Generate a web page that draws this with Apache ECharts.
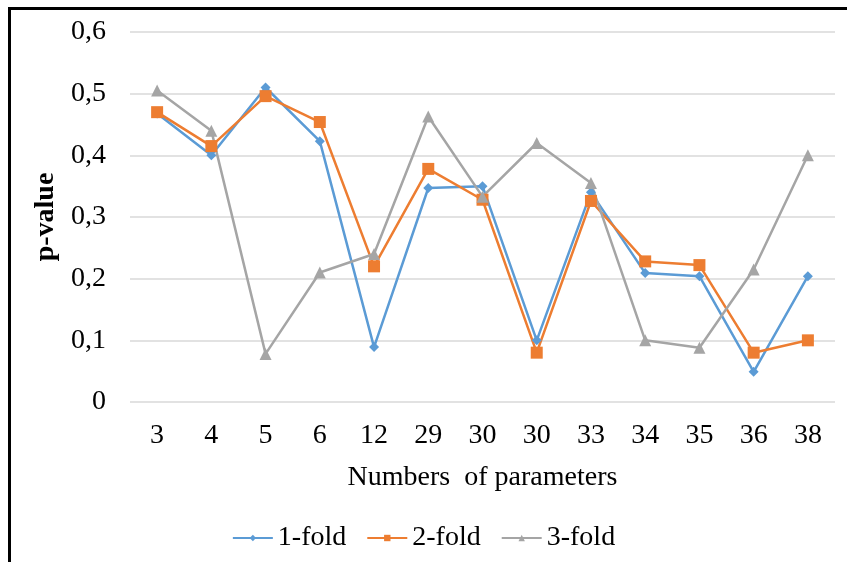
<!DOCTYPE html>
<html>
<head>
<meta charset="utf-8">
<script src="https://cdn.jsdelivr.net/npm/echarts@6/dist/echarts.min.js"></script>
<style>
  html, body { margin: 0; padding: 0; background: #fff; }
  #frame { position: absolute; left: 8px; top: 7px; right: 0; bottom: 0; border-left: 3px solid #000; border-top: 3px solid #000; }
  #chart { position: absolute; left: 0; top: 0; width: 847px; height: 562px; }
</style>
</head>
<body>
<div id="chart"></div>
<div id="frame"></div>
<script>
  const categories = ["3", "4", "5", "6", "12", "29", "30", "30", "33", "34", "35", "36", "38"];
  const fold1 = [0.468, 0.40, 0.51, 0.423, 0.089, 0.347, 0.35, 0.10, 0.34, 0.209, 0.204, 0.049, 0.204];
  const fold2 = [0.47, 0.415, 0.496, 0.454, 0.22, 0.378, 0.328, 0.08, 0.326, 0.228, 0.222, 0.08, 0.10];
  const fold3 = [0.505, 0.44, 0.078, 0.21, 0.24, 0.463, 0.333, 0.42, 0.355, 0.10, 0.088, 0.215, 0.40];
  const yTicks = [0, 0.1, 0.2, 0.3, 0.4, 0.5, 0.6];

  const FONT = "'Liberation Serif', 'DejaVu Serif', serif";

  function makeSeries(name, data, color, symbol, size) {
    return {
      name: name,
      type: 'line',
      data: data,
      symbol: symbol,
      symbolSize: size,
      lineStyle: { color: color, width: 2.5 },
      itemStyle: { color: color },
      animation: false
    };
  }

  var chart = echarts.init(document.getElementById('chart'), null, { renderer: 'canvas' });
  chart.setOption({
    backgroundColor: '#fff',
    textStyle: { fontFamily: FONT },
    grid: { left: 130, right: 12, top: 32, bottom: 160 },
    legend: {
      bottom: 5,
      left: 'center',
      itemWidth: 40,
      itemHeight: 8,
      itemGap: 20,
      textStyle: { fontFamily: FONT, fontSize: 28, color: '#000' },
      data: ['1-fold', '2-fold', '3-fold']
    },
    xAxis: {
      type: 'category',
      data: categories,
      name: 'Numbers  of parameters',
      nameLocation: 'middle',
      nameGap: 62,
      nameTextStyle: { fontFamily: FONT, fontSize: 28, color: '#000' },
      axisLine: { show: false },
      axisTick: { show: false },
      axisLabel: { fontFamily: FONT, fontSize: 28, color: '#000', margin: 20 }
    },
    yAxis: {
      type: 'value',
      min: yTicks[0],
      max: yTicks[yTicks.length - 1],
      interval: 0.1,
      name: 'p-value',
      nameLocation: 'middle',
      nameGap: 66,
      nameTextStyle: { fontFamily: FONT, fontSize: 28, fontWeight: 'bold', color: '#000' },
      axisLabel: {
        fontFamily: FONT, fontSize: 28, color: '#000', margin: 24,
        formatter: function (v) { return v === 0 ? '0' : v.toFixed(1).replace('.', ','); }
      },
      splitLine: { lineStyle: { color: '#d9d9d9', width: 1.5 } }
    },
    series: [
      makeSeries('1-fold', fold1, '#5b9bd5', 'diamond', 10),
      makeSeries('2-fold', fold2, '#ed7d31', 'rect', 12),
      makeSeries('3-fold', fold3, '#a5a5a5', 'triangle', 12)
    ]
  });
</script>
</body>
</html>
